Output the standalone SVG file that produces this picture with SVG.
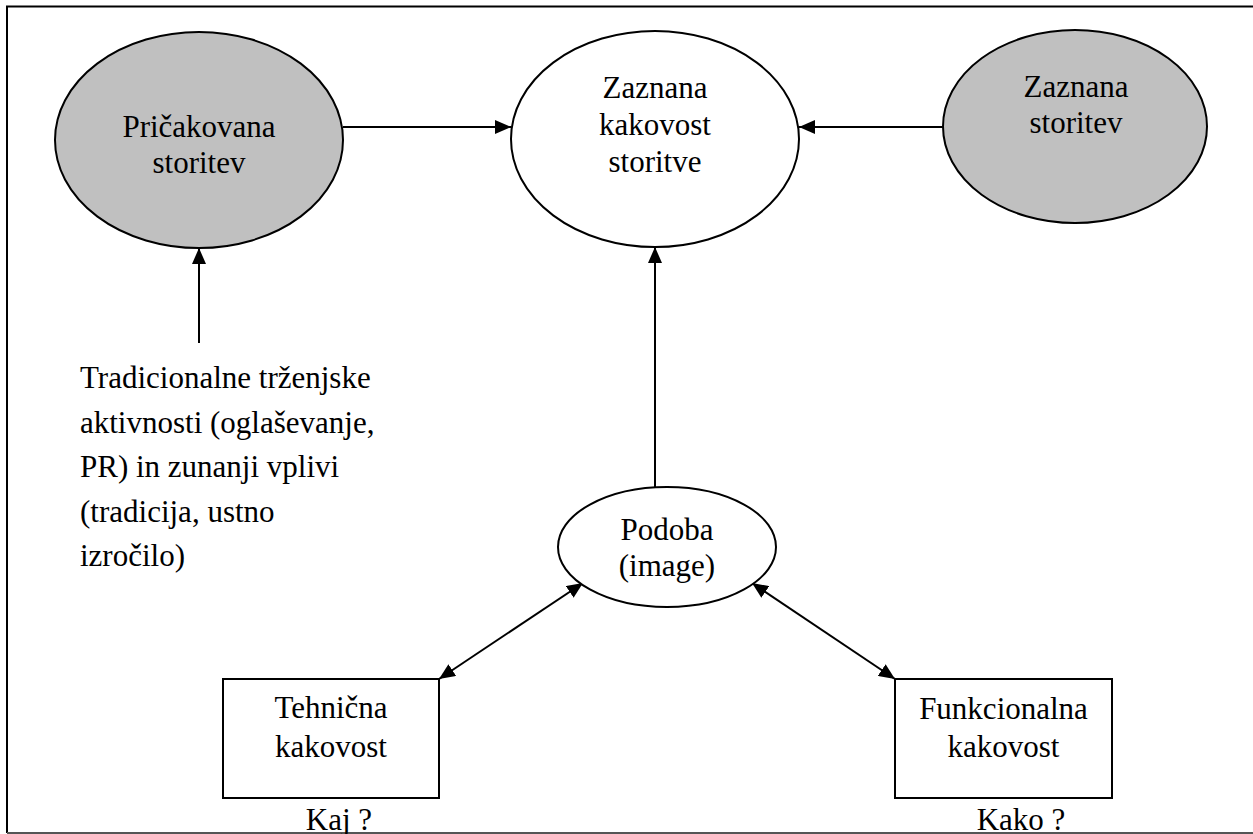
<svg xmlns="http://www.w3.org/2000/svg" width="1253" height="834" viewBox="0 0 1253 834">
<style>
text{font-family:Liberation Serif,Times New Roman,Tinos,Times,DejaVu Serif,serif;font-size:31px;fill:#000;text-anchor:middle}
.l{text-anchor:start}
.sh{stroke:#000;stroke-width:2}
.ln{stroke:#000;stroke-width:2;fill:none}
</style>
<defs>
<marker id="ah" viewBox="0 0 16 14" refX="16" refY="7" markerWidth="16" markerHeight="14" markerUnits="userSpaceOnUse" orient="auto-start-reverse">
<path d="M0,0 L16,7 L0,14 Z" fill="#000"/>
</marker>
</defs>
<rect width="1253" height="834" fill="#fff"/>
<g id="frame">
<path d="M1253,6.5 H7 V833" class="ln"/>
<path d="M7,833 H1253" stroke="#555" stroke-width="2"/>
</g>
<g id="connectors">
<line x1="343" y1="127" x2="511" y2="127" class="ln" marker-end="url(#ah)"/>
<line x1="943" y1="127" x2="799" y2="127" class="ln" marker-end="url(#ah)"/>
<line x1="199" y1="343" x2="199" y2="248" class="ln" marker-end="url(#ah)"/>
<line x1="655" y1="487" x2="655" y2="247" class="ln" marker-end="url(#ah)"/>
<line x1="439" y1="679" x2="583" y2="583" class="ln" marker-start="url(#ah)" marker-end="url(#ah)"/>
<line x1="752" y1="583" x2="895" y2="679" class="ln" marker-start="url(#ah)" marker-end="url(#ah)"/>
</g>
<g id="pricakovana">
<ellipse cx="199" cy="140" rx="144" ry="108" fill="#c0c0c0" class="sh"/>
<text x="199" y="137">Pričakovana</text>
<text x="199" y="173">storitev</text>
</g>
<g id="zaznana-kakovost">
<ellipse cx="655" cy="139" rx="144" ry="108" fill="#fff" class="sh"/>
<text x="655" y="98">Zaznana</text>
<text x="655" y="135">kakovost</text>
<text x="655" y="172">storitve</text>
</g>
<g id="zaznana-storitev">
<ellipse cx="1075" cy="126.5" rx="132" ry="96.5" fill="#c0c0c0" class="sh"/>
<text x="1076" y="97">Zaznana</text>
<text x="1076" y="133">storitev</text>
</g>
<g id="tradicionalne">
<text class="l" x="80" y="388">Tradicionalne trženjske</text>
<text class="l" x="80" y="432.5">aktivnosti (oglaševanje,</text>
<text class="l" x="80" y="477">PR) in zunanji vplivi</text>
<text class="l" x="80" y="521.5">(tradicija, ustno</text>
<text class="l" x="80" y="566">izročilo)</text>
</g>
<g id="podoba">
<ellipse cx="667" cy="547" rx="109" ry="60" fill="#fff" class="sh"/>
<text x="667" y="540">Podoba</text>
<text x="667" y="576">(image)</text>
</g>
<g id="tehnicna">
<rect x="223" y="679" width="216" height="119" fill="#fff" class="sh"/>
<text x="331" y="718">Tehnična</text>
<text x="331" y="757">kakovost</text>
<text x="339" y="830">Kaj ?</text>
</g>
<g id="funkcionalna">
<rect x="895" y="679" width="217" height="119" fill="#fff" class="sh"/>
<text x="1003.5" y="719">Funkcionalna</text>
<text x="1003.5" y="757">kakovost</text>
<text x="1021" y="830">Kako ?</text>
</g>
</svg>
